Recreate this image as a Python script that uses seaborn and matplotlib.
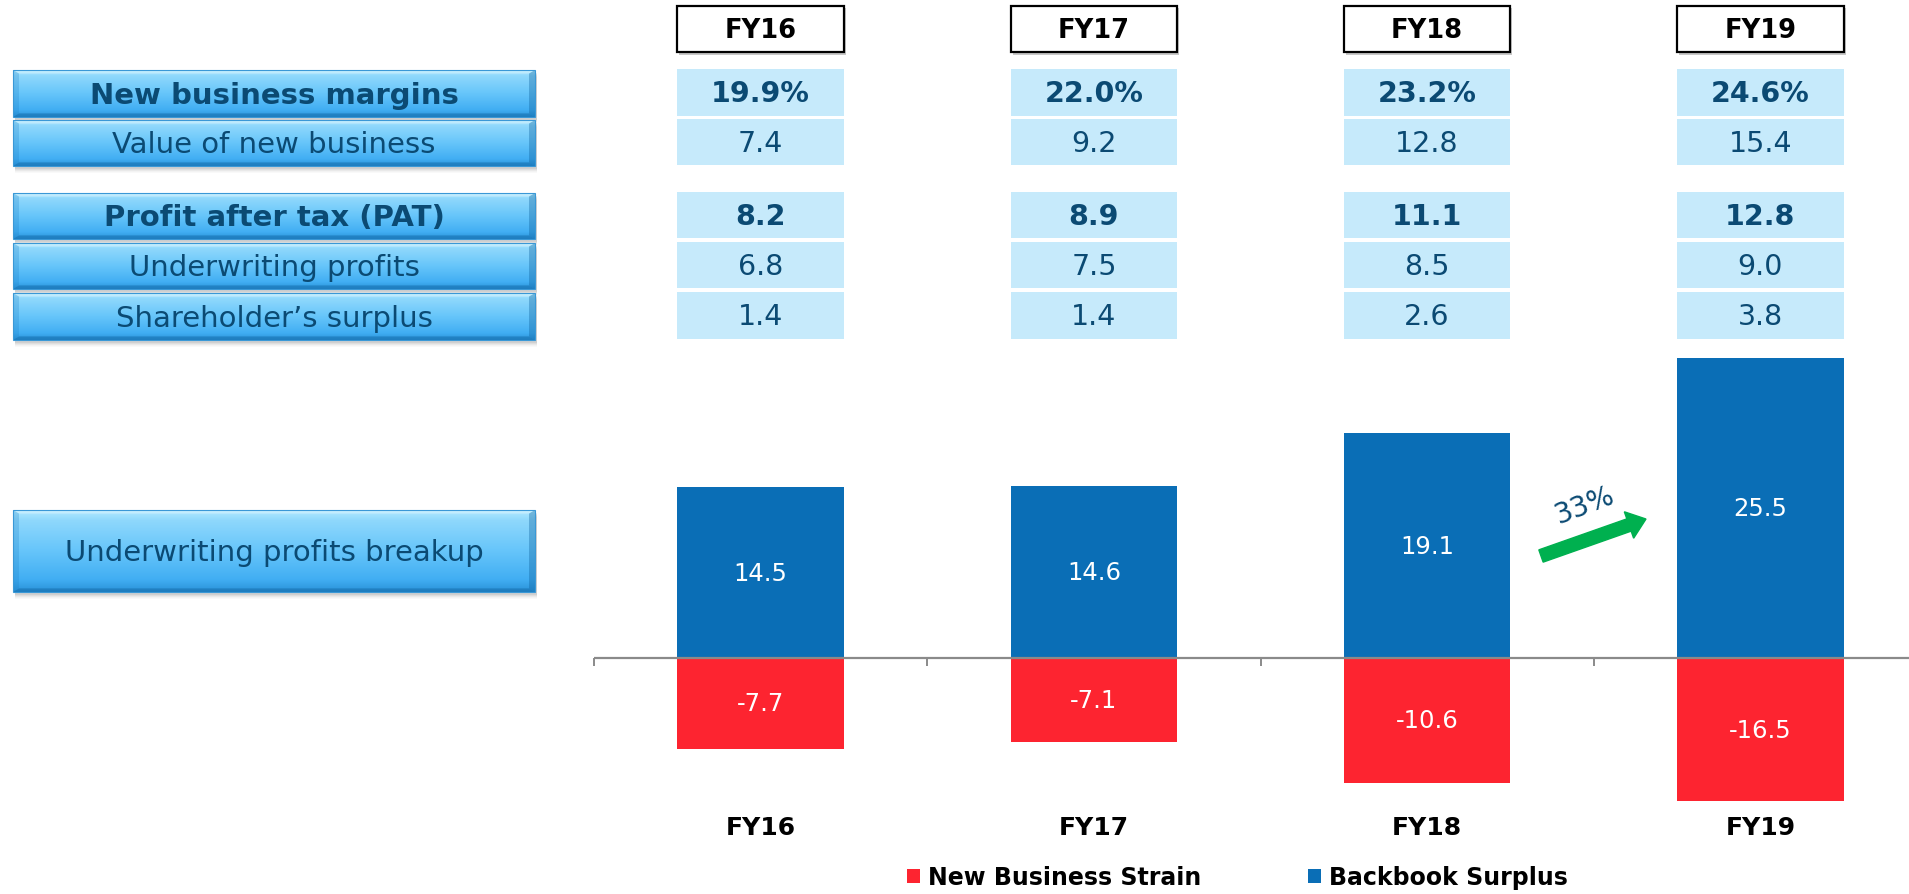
import numpy as np
import pandas as pd
import matplotlib
matplotlib.use("Agg")
import matplotlib.pyplot as plt
import seaborn as sns
from matplotlib.patches import Rectangle, Polygon, FancyArrow
from matplotlib.colors import to_rgb

# ---- data -------------------------------------------------------------
years = ["FY16", "FY17", "FY18", "FY19"]
nb_margin = [19.9, 22.0, 23.2, 24.6]          # %
vnb = [7.4, 9.2, 12.8, 15.4]
pat = [8.2, 8.9, 11.1, 12.8]
uw_profit = [6.8, 7.5, 8.5, 9.0]
sh_surplus = [1.4, 1.4, 2.6, 3.8]
backbook_surplus = [14.5, 14.6, 19.1, 25.5]
new_business_strain = [-7.7, -7.1, -10.6, -16.5]
growth_label = "33%"

row_labels = ["New business margins", "Value of new business",
              "Profit after tax (PAT)", "Underwriting profits",
              "Shareholder\u2019s surplus"]
row_bold = [True, False, True, False, False]
breakup_label = "Underwriting profits breakup"
series_names = ["New Business Strain", "Backbook Surplus"]

# ---- style --------------------------------------------------------------
sns.set_theme(style="white")
plt.rcParams["font.family"] = ["DejaVu Sans"]

W, H, DPI = 1909, 895, 100
TEXT_BLUE = "#0b4a73"
CELL_BLUE = "#c6eafb"
BAR_BLUE = "#0a6eb6"
BAR_RED = "#fd2430"

fig = plt.figure(figsize=(W / DPI, H / DPI), dpi=DPI)
fig.patch.set_facecolor("white")

# ---- bar chart ------------------------------------------------------------
X0, X1 = 594, 1927          # pixel span of the category axis (-0.5 .. 3.5)
Y_TOP, Y_BOT = 345, 802      # pixel span of the plot area
ax = fig.add_axes([X0 / W, 1 - Y_BOT / H, (X1 - X0) / W, (Y_BOT - Y_TOP) / H])

df = pd.DataFrame({
    "year": years * 2,
    "series": [series_names[0]] * 4 + [series_names[1]] * 4,
    "value": new_business_strain + backbook_surplus,
})
sns.barplot(data=df, x="year", y="value", hue="series", order=years,
            hue_order=series_names, palette=[BAR_RED, BAR_BLUE],
            dodge=False, width=0.5, linewidth=0, saturation=1, ax=ax)

ymin, ymax = -12.15, 26.68
ax.set_ylim(ymin, ymax)
ax.set_xlim(-0.5, 3.5)
for s in ax.spines.values():
    s.set_visible(False)
ax.set_yticks([])
ax.set_ylabel("")
ax.set_xlabel("")
ax.tick_params(axis="x", length=0, pad=10)
ax.set_xticks(range(len(years)))
ax.set_xticklabels(years, fontsize=18, fontweight="bold", color="black")
ax.set_facecolor("none")

ax.axhline(0, color="#8a8a8a", lw=1.6, zorder=5)
ax.vlines(np.arange(-0.5, 3.6, 1.0), -0.65, 0, color="#8a8a8a", lw=1.4,
          clip_on=False, zorder=5)

for i, (b, r) in enumerate(zip(backbook_surplus, new_business_strain)):
    ax.text(i, b / 2, f"{b:.1f}", color="white", fontsize=17.5,
            ha="center", va="center", zorder=6)
    r_vis = max(r, ymin)
    ax.text(i, r_vis / 2, f"{r:.1f}", color="white", fontsize=17.5,
            ha="center", va="center", zorder=6)

handles, labels = ax.get_legend_handles_labels()
if ax.get_legend() is not None:
    ax.get_legend().remove()
fig.legend(handles, labels, loc="center left",
           bbox_to_anchor=(907 / W, 1 - 878 / H), ncol=2, frameon=False,
           prop={"weight": "bold", "size": 17}, labelcolor="black",
           handlelength=0.55, handleheight=0.55, handletextpad=0.35,
           columnspacing=4.5, borderpad=0, borderaxespad=0)

# ---- value table (shares the category x scale) -----------------------------
ax_tab = fig.add_axes([X0 / W, 0, (X1 - X0) / W, 1])
ax_tab.set_xlim(-0.5, 3.5)
ax_tab.set_ylim(H, 0)
ax_tab.axis("off")
ax_tab.patch.set_alpha(0)

rows_px = [(70, 118), (120, 167), (193, 240), (243, 290), (293, 341)]
table_values = [
    [f"{v:.1f}%" for v in nb_margin],
    [f"{v:.1f}" for v in vnb],
    [f"{v:.1f}" for v in pat],
    [f"{v:.1f}" for v in uw_profit],
    [f"{v:.1f}" for v in sh_surplus],
]
cell_w = 0.5
for i, yr in enumerate(years):
    # header box
    ax_tab.add_patch(Rectangle((i - 0.25 + 0.006, 9), cell_w, 47,
                               facecolor="#c8c8c8", edgecolor="none", zorder=1))
    ax_tab.add_patch(Rectangle((i - 0.25, 7), cell_w, 46, facecolor="white",
                               edgecolor="black", lw=1.6, zorder=2))
    ax_tab.text(i, 31, yr, fontsize=18.5, fontweight="bold", color="black",
                ha="center", va="center", zorder=3)
    for r, (y0, y1) in enumerate(rows_px):
        ax_tab.add_patch(Rectangle((i - 0.25, y0), cell_w, y1 - y0 - 1,
                                   facecolor=CELL_BLUE, edgecolor="none"))
        ax_tab.text(i, (y0 + y1) / 2, table_values[r][i], fontsize=20.5,
                    fontweight="bold" if row_bold[r] else "normal",
                    color=TEXT_BLUE, ha="center", va="center")

# ---- row-label buttons, growth arrow (pixel space) ---------------------------
ax_px = fig.add_axes([0, 0, 1, 1])
ax_px.patch.set_alpha(0)
ax_px.axis("off")


def gradient(stops, n=120):
    pos = np.array([p for p, _ in stops])
    cols = np.array([to_rgb(c) for _, c in stops])
    t = np.linspace(0, 1, n)
    arr = np.stack([np.interp(t, pos, cols[:, k]) for k in range(3)], axis=-1)
    return arr[:, None, :]


BTN_STOPS = [(0.0, "#b2ebff"), (0.12, "#8fd8fc"), (0.5, "#66c5fa"),
             (0.85, "#41aef3"), (1.0, "#2a92d8")]


def button(x0, x1, y0, y1, text, bold=False, size=21):
    # soft drop shadow
    for k, a in zip(range(1, 6), [0.10, 0.08, 0.06, 0.04, 0.03]):
        ax_px.add_patch(Rectangle((x0 + 2, y0 + 2 + k), x1 - x0, y1 - y0,
                                  facecolor="#5a5a5a", alpha=a,
                                  edgecolor="none", zorder=1))
    ax_px.imshow(gradient(BTN_STOPS), extent=(x0, x1, y1, y0),
                 aspect="auto", zorder=2, interpolation="bilinear")
    d = 6
    top = Polygon([(x0, y0), (x1, y0), (x1 - d, y0 + d * 0.6), (x0 + d, y0 + d * 0.6)],
                  closed=True, facecolor="white", alpha=0.30, edgecolor="none", zorder=3)
    bot = Polygon([(x0, y1), (x1, y1), (x1 - d, y1 - d * 0.6), (x0 + d, y1 - d * 0.6)],
                  closed=True, facecolor="#0b5e9a", alpha=0.40, edgecolor="none", zorder=3)
    lft = Polygon([(x0, y0), (x0 + d, y0 + d * 0.6), (x0 + d, y1 - d * 0.6), (x0, y1)],
                  closed=True, facecolor="#1f7fc4", alpha=0.25, edgecolor="none", zorder=3)
    rgt = Polygon([(x1, y0), (x1 - d, y0 + d * 0.6), (x1 - d, y1 - d * 0.6), (x1, y1)],
                  closed=True, facecolor="#0b5e9a", alpha=0.35, edgecolor="none", zorder=3)
    for p in (top, bot, lft, rgt):
        ax_px.add_patch(p)
    ax_px.add_patch(Rectangle((x0, y0), x1 - x0, y1 - y0, facecolor="none",
                              edgecolor="#3a98d6", lw=0.8, zorder=4))
    ax_px.text((x0 + x1) / 2, (y0 + y1) / 2 + 1, text, fontsize=size,
               fontweight="bold" if bold else "normal", color=TEXT_BLUE,
               ha="center", va="center", zorder=5)


BX0, BX1 = 13, 535
for (y0, y1), lab, b in zip(rows_px, row_labels, row_bold):
    button(BX0, BX1, y0 + 1, y1, lab, bold=b)
button(BX0, BX1, 511, 593, breakup_label)

ax_px.add_patch(FancyArrow(1541, 557, 88, -31, width=13, head_width=28,
                           head_length=18, length_includes_head=False,
                           color="#00b04f", zorder=6))
ax_px.text(1585, 505, growth_label, fontsize=20, color=TEXT_BLUE,
           rotation=21, ha="center", va="center", zorder=6)

ax_px.set_xlim(0, W)
ax_px.set_ylim(H, 0)

fig.savefig("out.png", dpi=DPI, facecolor="white")
